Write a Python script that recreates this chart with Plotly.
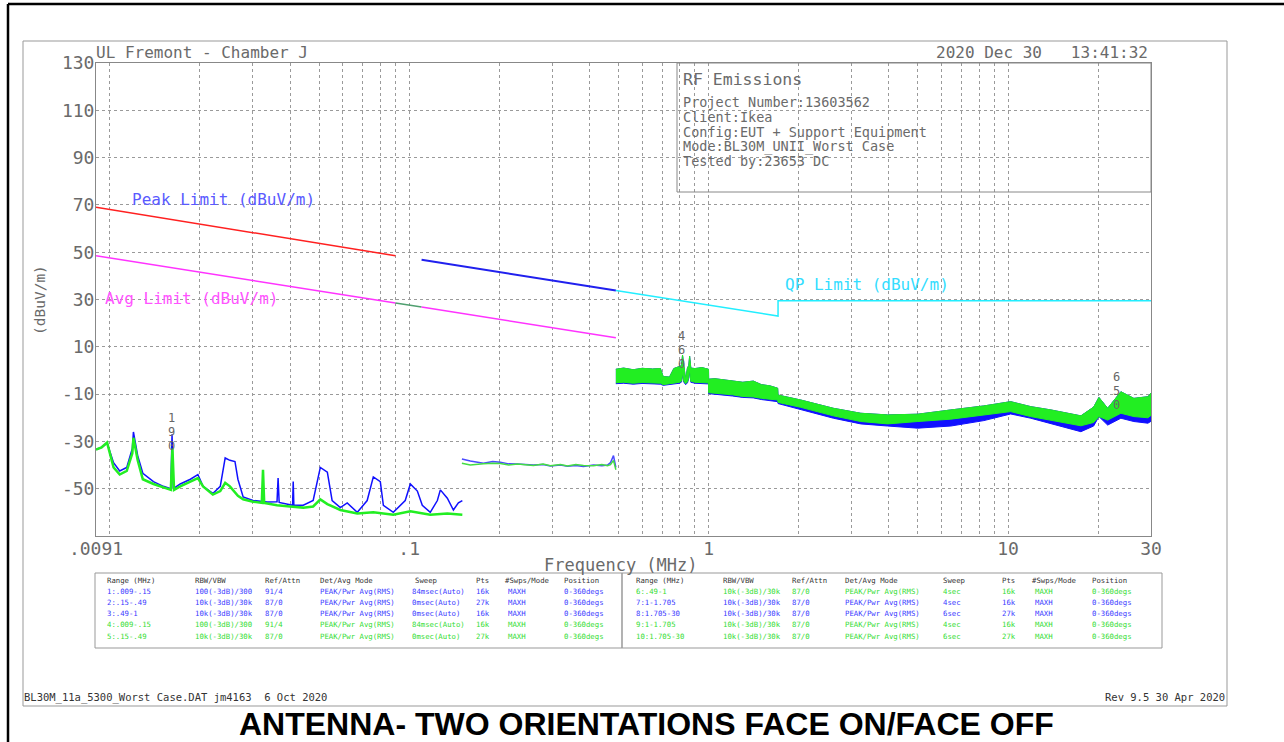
import math
import plotly.graph_objects as go

# ---------------- data ----------------
# Segment 1 (0.009-0.15 MHz) traces
seg1_blue_f = [0.009, 0.0094, 0.0098, 0.0103, 0.0108, 0.0114, 0.0119, 0.0120, 0.0124, 0.0129, 0.0140, 0.0151,
               0.0160, 0.01615, 0.0163, 0.0172, 0.0186, 0.0197, 0.0205, 0.0221, 0.0234, 0.0243, 0.0252, 0.0262,
               0.0268, 0.0279, 0.0301, 0.0336, 0.0362, 0.0365, 0.0368, 0.0400, 0.0408, 0.0410, 0.0412, 0.0443,
               0.0478, 0.0505, 0.0533, 0.0553, 0.0589, 0.0621, 0.0671, 0.0724, 0.0759, 0.0801, 0.0820, 0.0885,
               0.0970, 0.1009, 0.1065, 0.1106, 0.1176, 0.1242, 0.1271, 0.1341, 0.1405, 0.1460, 0.1505]
seg1_blue_v = [-33.5, -32.5, -30.7, -39, -42.5, -41, -33, -26, -36, -43.5, -47, -49,
               -50, -27, -50, -48, -46, -44, -49, -52, -49, -37, -38, -38.5,
               -46, -53.5, -55, -55.6, -55.5, -45.5, -55.8, -57, -57, -47, -57, -57,
               -55, -41, -43, -55, -58, -56, -60, -55, -45, -47, -57, -60,
               -55, -48, -51, -57, -60, -55, -50.5, -54, -59, -56, -55]
seg1_green_f = [0.009, 0.0094, 0.0098, 0.0103, 0.0108, 0.0114, 0.0119, 0.0120, 0.0124, 0.0129, 0.0140, 0.0151,
                0.0160, 0.0162, 0.0164, 0.0172, 0.0186, 0.0197, 0.0205, 0.0221, 0.0234, 0.0243, 0.0252, 0.0268,
                0.0279, 0.0301, 0.0322, 0.0325, 0.0328, 0.0362, 0.0400, 0.0443, 0.0478, 0.0505, 0.0533, 0.0589,
                0.0671, 0.0759, 0.0885, 0.1009, 0.1176, 0.1341, 0.1505]
seg1_green_v = [-33.5, -32.5, -30.5, -41, -44, -42.5, -35, -28.5, -38, -46, -48, -49.5,
                -50.5, -33, -50.5, -49, -47, -45.5, -49, -52.5, -51, -47.5, -49, -53,
                -54.5, -55.5, -56, -42, -56, -57, -57.5, -58, -57.5, -54.5, -56.5, -59,
                -60.5, -60, -61, -59.5, -61, -60.5, -61]

# Segment 2 (0.15-0.49 MHz)
seg2_f = [0.15, 0.16, 0.177, 0.19, 0.2016, 0.215, 0.23, 0.26, 0.28, 0.2962, 0.32, 0.3377, 0.36, 0.3819,
          0.4125, 0.44, 0.4595, 0.47, 0.4811, 0.487, 0.49]
seg2_blue_v = [-37.4, -38.3, -39.2, -38.5, -38.8, -39.5, -39.6, -40, -39.8, -40.4, -40, -40.5, -40.2, -40.6,
               -40.0, -40.3, -40.0, -39, -36, -39.5, -41]
seg2_green_v = [-39.2, -40, -39.5, -39.2, -39.3, -40, -39.6, -40.2, -39.6, -40.3, -39.8, -40.4, -39.8, -40.2,
                -40.3, -39.8, -40.3, -39.8, -38, -40.5, -42]

# Segments 3-5 (0.49-30 MHz) noise band envelopes
band_f = [0.49, 0.52, 0.56, 0.60, 0.65, 0.69, 0.705, 0.74, 0.765, 0.80, 0.812, 0.818, 0.826, 0.838, 0.85,
          0.858, 0.864, 0.872, 0.9, 0.95, 0.999,
          1.0, 1.05, 1.12, 1.2, 1.3, 1.41, 1.5, 1.6, 1.70,
          1.705, 2.03, 2.61, 3.22, 3.96, 4.99, 6.44, 8.30, 10.2, 11.9, 13.9, 17.5, 19.3, 20.1, 21.5,
          23.8, 26.3, 29.3, 30]
band_green_top = [0.5, 1.0, 0.3, 0.9, 0.6, 0.8, -2.6, -2.8, 0.8, 1.6, 2.0, 6.5, 1.0, -4.0, 1.2,
                  2.0, 6.0, 1.0, 0.8, 1.2, 0.5,
                  -3.7, -3.5, -4.0, -4.3, -5.0, -4.5, -6.0, -6.5, -7.5,
                  -10.4, -12.5, -16.0, -18.1, -18.8, -18.5, -16.7, -15.0, -13.2, -15.3, -16.7, -19.2, -15.5, -11.4, -16.0,
                  -9.0, -11.8, -11.1, -9.6]
band_green_bot = [-5.2, -5.0, -5.4, -5.1, -5.3, -5.4, -6.0, -5.8, -5.3, -5.0, -4.5, -1.0, -4.5, -5.6, -4.8,
                  -3.0, 0.5, -4.6, -5.0, -5.2, -5.3,
                  -9.4, -9.6, -10.0, -10.3, -11.0, -11.2, -11.8, -12.2, -12.5,
                  -13.5, -15.6, -19.2, -21.6, -22.6, -21.6, -20.6, -18.8, -17.4, -19.5, -21.0, -23.4, -22.0, -19.5, -21.0,
                  -18.1, -19.5, -20.0, -19.0]
band_blue_bot = [-5.6, -5.4, -5.8, -5.5, -5.7, -5.8, -6.3, -6.2, -5.7, -5.4, -4.9, -1.4, -4.9, -6.0, -5.2,
                 -3.4, 0.1, -5.0, -5.4, -5.6, -5.7,
                 -9.8, -10.0, -10.5, -10.8, -11.4, -11.6, -12.3, -12.8, -13.2,
                 -14.0, -16.4, -20.2, -22.6, -23.5, -24.4, -23.5, -21.2, -18.4, -20.2, -22.6, -25.9, -23.5, -19.5, -23.1,
                 -20.2, -21.6, -22.3, -21.5]

# Limit lines (endpoints)
peak_red_f = [0.009, 0.09]
peak_red_v = [69.0, 48.5]
peak_blue_f = [0.11, 0.49]
peak_blue_v = [46.8, 33.8]
avg1_f = [0.009, 0.09]
avg1_v = [48.5, 28.5]
avg2_f = [0.09, 0.11]
avg2_v = [28.5, 26.8]
avg3_f = [0.11, 0.49]
avg3_v = [26.8, 13.8]
qp_f = [0.49, 1.705, 1.705, 30]
qp_v = [33.8, 23.0, 29.5, 29.5]

y_ticks = [-50, -30, -10, 10, 30, 50, 70, 90, 110, 130]
x_tick_labels = {0.009: ".0091", 0.1: ".1", 1: "1", 10: "10", 30: "30"}

table_header = ["Range (MHz)", "RBW/VBW", "Ref/Attn", "Det/Avg Mode", "Sweep", "Pts", "#Swps/Mode", "Position"]
table_left = [
    ["1:.009-.15", "100(-3dB)/300", "91/4", "PEAK/Pwr Avg(RMS)", "84msec(Auto)", "16k", "MAXH", "0-360degs"],
    ["2:.15-.49", "10k(-3dB)/30k", "87/0", "PEAK/Pwr Avg(RMS)", "0msec(Auto)", "27k", "MAXH", "0-360degs"],
    ["3:.49-1", "10k(-3dB)/30k", "87/0", "PEAK/Pwr Avg(RMS)", "0msec(Auto)", "16k", "MAXH", "0-360degs"],
    ["4:.009-.15", "100(-3dB)/300", "91/4", "PEAK/Pwr Avg(RMS)", "84msec(Auto)", "16k", "MAXH", "0-360degs"],
    ["5:.15-.49", "10k(-3dB)/30k", "87/0", "PEAK/Pwr Avg(RMS)", "0msec(Auto)", "27k", "MAXH", "0-360degs"],
]
table_right = [
    ["6:.49-1", "10k(-3dB)/30k", "87/0", "PEAK/Pwr Avg(RMS)", "4sec", "16k", "MAXH", "0-360degs"],
    ["7:1-1.705", "10k(-3dB)/30k", "87/0", "PEAK/Pwr Avg(RMS)", "4sec", "16k", "MAXH", "0-360degs"],
    ["8:1.705-30", "10k(-3dB)/30k", "87/0", "PEAK/Pwr Avg(RMS)", "6sec", "27k", "MAXH", "0-360degs"],
    ["9:1-1.705", "10k(-3dB)/30k", "87/0", "PEAK/Pwr Avg(RMS)", "4sec", "16k", "MAXH", "0-360degs"],
    ["10:1.705-30", "10k(-3dB)/30k", "87/0", "PEAK/Pwr Avg(RMS)", "6sec", "27k", "MAXH", "0-360degs"],
]
left_colors = ["b", "b", "b", "g", "g"]
right_colors = ["g", "b", "b", "g", "g"]

info_lines = ["Project Number:13603562", "Client:Ikea", "Config:EUT + Support Equipment",
              "Mode:BL30M_UNII_Worst Case", "Tested by:23653 DC"]

# ---------------- styling / layout helpers ----------------
W, H = 1284, 742
L, R, T, B = 96, 1151, 63, 536
MONO = "DejaVu Sans Mono"
GRAY = "#6a6a6a"
BLUE = "#1010ff"
GREEN = "#22ee22"
TBL_BLUE = "#3a3aff"
TBL_GREEN = "#33dd33"


def px(x):
    return (x - L) / (R - L)


def py(y):
    return (B - y) / (B - T)


fig = go.Figure()

# noise bands (blue under green)
fig.add_trace(go.Scatter(x=band_f + band_f[::-1], y=band_green_top + band_blue_bot[::-1],
                         fill="toself", fillcolor=BLUE, line=dict(color=BLUE, width=1), mode="lines",
                         hoverinfo="skip"))
fig.add_trace(go.Scatter(x=band_f + band_f[::-1], y=band_green_top + band_green_bot[::-1],
                         fill="toself", fillcolor=GREEN, line=dict(color=GREEN, width=1), mode="lines",
                         hoverinfo="skip"))

# low-frequency traces
fig.add_trace(go.Scatter(x=seg1_blue_f, y=seg1_blue_v, mode="lines", line=dict(color=BLUE, width=1.5)))
fig.add_trace(go.Scatter(x=seg1_green_f, y=seg1_green_v, mode="lines", line=dict(color=GREEN, width=2.5)))
fig.add_trace(go.Scatter(x=seg2_f, y=seg2_blue_v, mode="lines", line=dict(color="#4a4aff", width=1.5)))
fig.add_trace(go.Scatter(x=seg2_f, y=seg2_green_v, mode="lines", line=dict(color="#44dd44", width=1.5)))

# limit lines
fig.add_trace(go.Scatter(x=peak_red_f, y=peak_red_v, mode="lines", line=dict(color="#ff2020", width=1.5)))
fig.add_trace(go.Scatter(x=peak_blue_f, y=peak_blue_v, mode="lines", line=dict(color="#2020ee", width=2)))
fig.add_trace(go.Scatter(x=avg1_f, y=avg1_v, mode="lines", line=dict(color="#ff33ff", width=1.5)))
fig.add_trace(go.Scatter(x=avg2_f, y=avg2_v, mode="lines", line=dict(color="#4f9f6f", width=1.5)))
fig.add_trace(go.Scatter(x=avg3_f, y=avg3_v, mode="lines", line=dict(color="#ff33ff", width=1.5)))
fig.add_trace(go.Scatter(x=qp_f, y=qp_v, mode="lines", line=dict(color="#22eeff", width=1.5)))

# axes
x_tickvals = [0.009] + [m * d for d in (0.01, 0.1, 1) for m in range(1, 10)] + [10, 20, 30]
x_ticktext = [x_tick_labels.get(round(v, 6), "") for v in x_tickvals]

axis_common = dict(showgrid=True, gridcolor="#9a9a9a", griddash="dot", gridwidth=1,
                   showline=True, linecolor="#888888", linewidth=1, mirror=True,
                   ticks="", zeroline=False, tickfont=dict(family=MONO, size=18, color=GRAY))
fig.update_xaxes(type="log", range=[math.log10(0.009), math.log10(30)],
                 tickvals=x_tickvals, ticktext=x_ticktext, ticklabelstandoff=-4, **axis_common)
fig.update_yaxes(range=[-70, 130], tickvals=y_ticks, ticktext=[str(v) for v in y_ticks],
                 ticklabelstandoff=-3, **axis_common)

ann = []


def text(x, y, s, size, color=GRAY, anchor="left", family=MONO, angle=0, bold=False):
    ann.append(dict(x=px(x), y=py(y), xref="paper", yref="paper", text=("<b>%s</b>" % s) if bold else s,
                    showarrow=False, xanchor=anchor, yanchor="middle", textangle=angle,
                    font=dict(family=family, size=size, color=color)))


text(94, 53, "UL Fremont - Chamber J", 16)
text(1150, 53, "2020 Dec 30   13:41:32", 16, anchor="right")
text(40, 300, "(dBuV/m)", 14.5, angle=-90, anchor="center")
text(621, 565, "Frequency (MHz)", 17, anchor="center")

text(681, 79, "RF Emissions", 16.5)
for i, s in enumerate(info_lines):
    text(681, 102 + i * 14.8, s, 13.5)

text(130, 199, "Peak Limit (dBuV/m)", 16, color="#5a5aff")
text(103, 298, "Avg Limit (dBuV/m)", 16, color="#ff55ff")
text(783, 284, "QP Limit (dBuV/m)", 16, color="#33ddff")

# marker labels
for (mx, ys, digits) in [(171, (418, 432, 446), ("1", "9", "0")),
                         (681, (336, 350, 364), ("4", "6", "0")),
                         (1116, (377, 391, 405), ("6", "5", "0"))]:
    for yy, d in zip(ys, digits):
        text(mx, yy, d, 12, color="#666666", anchor="center")

# tables
left_cols = [105, 193, 263, 318, 410, 474, 506, 562]
left_hcols = [105, 193, 263, 318, 413, 474, 503, 562]
right_cols = [634, 721, 790, 843, 941, 1000, 1033, 1090]
right_hcols = [634, 721, 790, 843, 941, 1000, 1030, 1090]
row_y = [580 + i * 11.2 for i in range(6)]
for cols, hcols, rows, colors in [(left_cols, left_hcols, table_left, left_colors),
                                  (right_cols, right_hcols, table_right, right_colors)]:
    for c, h in zip(hcols, table_header):
        text(c, row_y[0], h, 7.3, color="#333333")
    for r, row in enumerate(rows):
        col = TBL_BLUE if colors[r] == "b" else TBL_GREEN
        for c, s in zip(cols, row):
            text(c, row_y[r + 1], s, 7.3, color=col)

text(22, 697, "BL30M_11a_5300_Worst Case.DAT jm4163  6 Oct 2020", 10.5, color="#333333")
text(1227, 697, "Rev 9.5 30 Apr 2020", 10.5, color="#333333", anchor="right")
text(646, 724, "ANTENNA- TWO ORIENTATIONS FACE ON/FACE OFF", 32, color="#000000", anchor="center",
     family="Liberation Sans", bold=True)

shapes = []


def rect(x0, y0, x1, y1, color, width=1):
    shapes.append(dict(type="rect", xref="paper", yref="paper", x0=px(x0), x1=px(x1), y0=py(y1), y1=py(y0),
                       line=dict(color=color, width=width), fillcolor="rgba(0,0,0,0)", layer="above"))


def hline(x0, x1, y, color, width):
    shapes.append(dict(type="line", xref="paper", yref="paper", x0=px(x0), x1=px(x1), y0=py(y), y1=py(y),
                       line=dict(color=color, width=width)))


def vline(x, y0, y1, color, width):
    shapes.append(dict(type="line", xref="paper", yref="paper", x0=px(x), x1=px(x), y0=py(y0), y1=py(y1),
                       line=dict(color=color, width=width)))


rect(677, 63, 1151, 192, "#888888")
rect(95, 573, 622, 648, "#999999")
rect(622, 573, 1162, 648, "#999999")
rect(23, 41, 1227, 706, "#999999")
vline(8, 4, 742, "#000000", 2.5)
hline(8, 1284, 4, "#000000", 2.5)

fig.update_layout(width=W, height=H, margin=dict(l=L, r=W - R, t=T, b=H - B),
                  paper_bgcolor="white", plot_bgcolor="white", showlegend=False,
                  annotations=ann, shapes=shapes)

fig.write_html("out.html", config={"displayModeBar": False},
               post_script="document.body.style.margin='0';document.body.style.overflow='hidden';")
